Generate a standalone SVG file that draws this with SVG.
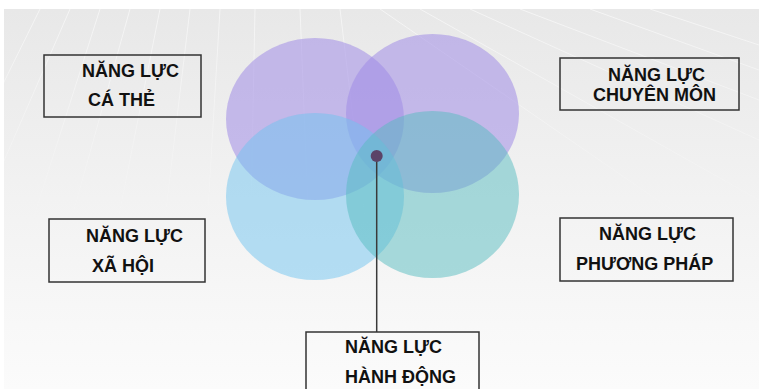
<svg xmlns="http://www.w3.org/2000/svg" width="759" height="389" viewBox="0 0 759 389">
  <defs>
    <linearGradient id="bg" x1="0" y1="0" x2="0" y2="1">
      <stop offset="0" stop-color="#e8e8e8"/>
      <stop offset="0.5" stop-color="#f2f2f2"/>
      <stop offset="1" stop-color="#fbfbfb"/>
    </linearGradient>
    <linearGradient id="fade" x1="0" y1="0" x2="0" y2="1">
      <stop offset="0" stop-color="#fff" stop-opacity="0.55"/>
      <stop offset="1" stop-color="#fff" stop-opacity="0"/>
    </linearGradient>
    <mask id="fm"><rect x="0" y="9" width="759" height="240" fill="url(#fade)"/></mask>
  </defs>
  <style>
    .box{fill:none;stroke:#333;stroke-width:1.5}
    .t{font-family:"Liberation Sans",Arial,sans-serif;font-weight:bold;font-size:18px;fill:#111}
    .grid{stroke:#fff;stroke-width:1;fill:none}
  </style>
  <rect width="759" height="389" fill="#fff"/>
  <rect x="4" y="9" width="755" height="380" fill="url(#bg)"/>
  <g mask="url(#fm)" class="grid">
    <path d="M40 9 L0 90 M70 9 L0 170 M100 9 L20 260 M130 9 L60 260 M160 9 L110 260 M190 9 L160 260 M220 9 L205 260 M255 9 L250 260 M300 9 L310 260 M340 9 L370 260 M420 9 L759 200 M470 9 L759 140 M520 9 L759 100 M590 9 L759 70 M650 9 L759 45 M380 9 L759 270"/>
  </g>
  <g id="circles">
    <ellipse cx="315" cy="119" rx="89" ry="81" fill="#a08de6" fill-opacity="0.55"/>
    <ellipse cx="432.5" cy="113.5" rx="86.5" ry="79.5" fill="#a08de6" fill-opacity="0.55"/>
    <ellipse cx="315" cy="196.5" rx="89" ry="83.5" fill="#70c4ef" fill-opacity="0.5"/>
    <ellipse cx="432.5" cy="194.5" rx="86.5" ry="83.5" fill="#55bcc0" fill-opacity="0.5"/>
  </g>
  <g id="connectors">
    <line x1="376.7" y1="156" x2="376.7" y2="332" stroke="#3a3a3a" stroke-width="1.5"/>
    <circle cx="376.7" cy="156" r="6" fill="#5b4468"/>
  </g>
  <g id="ca-the">
    <rect class="box" x="44" y="55" width="157" height="62"/>
    <text class="t" x="82" y="77">NĂNG LỰC</text>
    <text class="t" x="88" y="106">CÁ THẺ</text>
  </g>
  <g id="chuyen-mon">
    <rect class="box" x="560" y="58" width="179" height="52"/>
    <text class="t" x="608" y="81">NĂNG LỰC</text>
    <text class="t" x="593" y="101">CHUYÊN MÔN</text>
  </g>
  <g id="xa-hoi">
    <rect class="box" x="49" y="219" width="156" height="63"/>
    <text class="t" x="86" y="242">NĂNG LỰC</text>
    <text class="t" x="92" y="272">XÃ HỘI</text>
  </g>
  <g id="phuong-phap">
    <rect class="box" x="560" y="218" width="173" height="63"/>
    <text class="t" x="599" y="240">NĂNG LỰC</text>
    <text class="t" x="576" y="270">PHƯƠNG PHÁP</text>
  </g>
  <g id="hanh-dong">
    <rect class="box" x="306" y="332" width="173" height="70"/>
    <text class="t" x="345" y="353">NĂNG LỰC</text>
    <text class="t" x="345" y="383">HÀNH ĐỘNG</text>
  </g>
</svg>
